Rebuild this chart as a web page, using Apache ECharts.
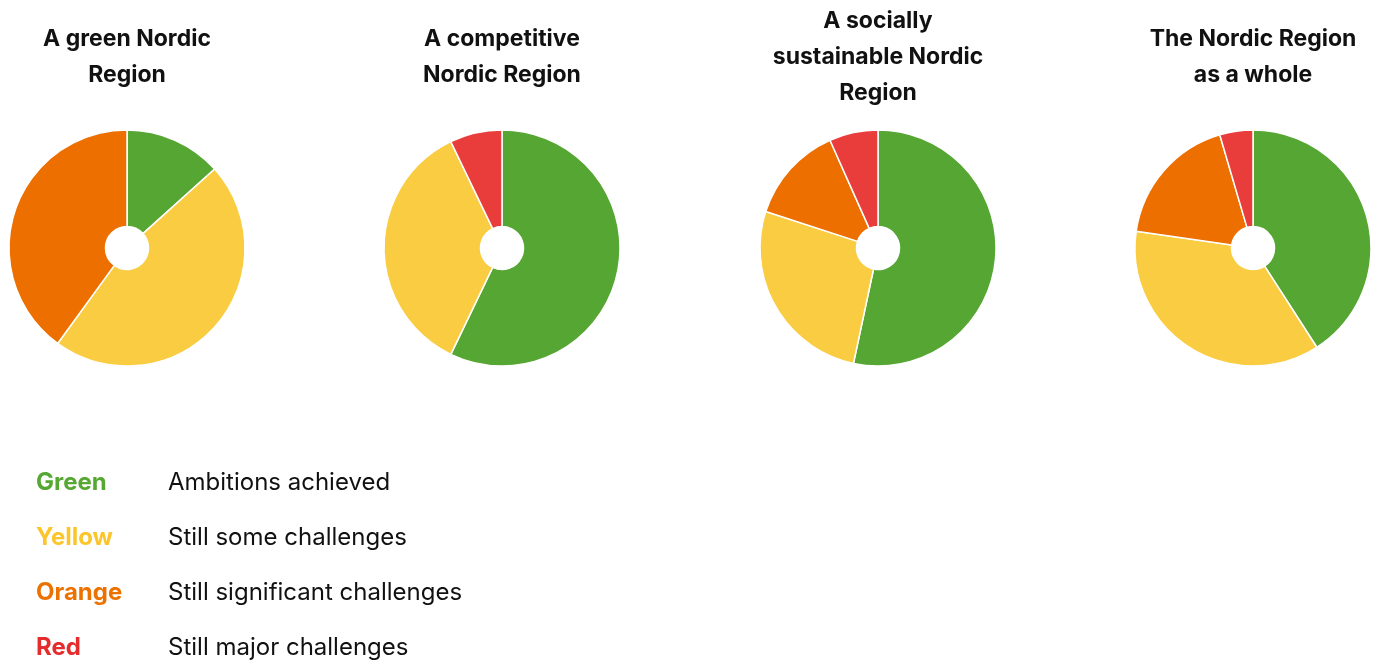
<!DOCTYPE html>
<html>
<head>
<meta charset="utf-8">
<script src="https://cdn.jsdelivr.net/npm/echarts@6/dist/echarts.min.js"></script>
<style>html,body{margin:0;padding:0;background:#fff}#c{width:1382px;height:661px}</style>
</head>
<body>
<div id="c"></div>
<script>
const titles = ["A green Nordic\nRegion", "A competitive\nNordic Region", "A socially\nsustainable Nordic\nRegion", "The Nordic Region\nas a whole"];
const categories = ["Green", "Yellow", "Orange", "Red"];
const descriptions = ["Ambitions achieved", "Still some challenges", "Still significant challenges", "Still major challenges"];
const greenValues = [2, 8, 8, 18];
const yellowValues = [7, 5, 4, 16];
const orangeValues = [6, 0, 2, 8];
const redValues = [0, 1, 1, 2];
const sliceColors = ["#55a633", "#f9cc41", "#ec6f00", "#e93d3c"];
const legendColors = ["#56a832", "#fcc52c", "#ec7200", "#e52b2b"];

const centersX = [127, 502, 878, 1253];
const FONT = "Inter, 'Open Sans', sans-serif";

const chart = echarts.init(document.getElementById('c'), null, {renderer: 'canvas'});
const series = titles.map((t, i) => ({
  type: 'pie',
  center: [centersX[i], 248],
  radius: [21.5, 118],
  startAngle: 90,
  clockwise: true,
  label: {show: false},
  labelLine: {show: false},
  silent: true,
  itemStyle: {borderColor: '#fff', borderWidth: 1.5},
  data: categories.map((c, k) => ({
    name: c,
    value: [greenValues, yellowValues, orangeValues, redValues][k][i],
    itemStyle: {color: sliceColors[k]}
  })).filter(d => d.value > 0)
}));

const graphics = [];
titles.forEach((t, i) => {
  graphics.push({
    type: 'text', x: centersX[i], y: 57,
    style: {text: t, font: "bold 23px " + FONT, fill: '#111', align: 'center', verticalAlign: 'middle', lineHeight: 36}
  });
});
categories.forEach((c, k) => {
  const y = 483 + k * 55;
  graphics.push({type: 'text', x: 36, y: y, style: {text: c, font: "bold 24px " + FONT, fill: legendColors[k], align: 'left', verticalAlign: 'middle'}});
  graphics.push({type: 'text', x: 168, y: y, style: {text: descriptions[k], font: "24px " + FONT, fill: '#111', align: 'left', verticalAlign: 'middle'}});
});

chart.setOption({
  animation: false,
  series: series,
  graphic: graphics
});
</script>
</body>
</html>
